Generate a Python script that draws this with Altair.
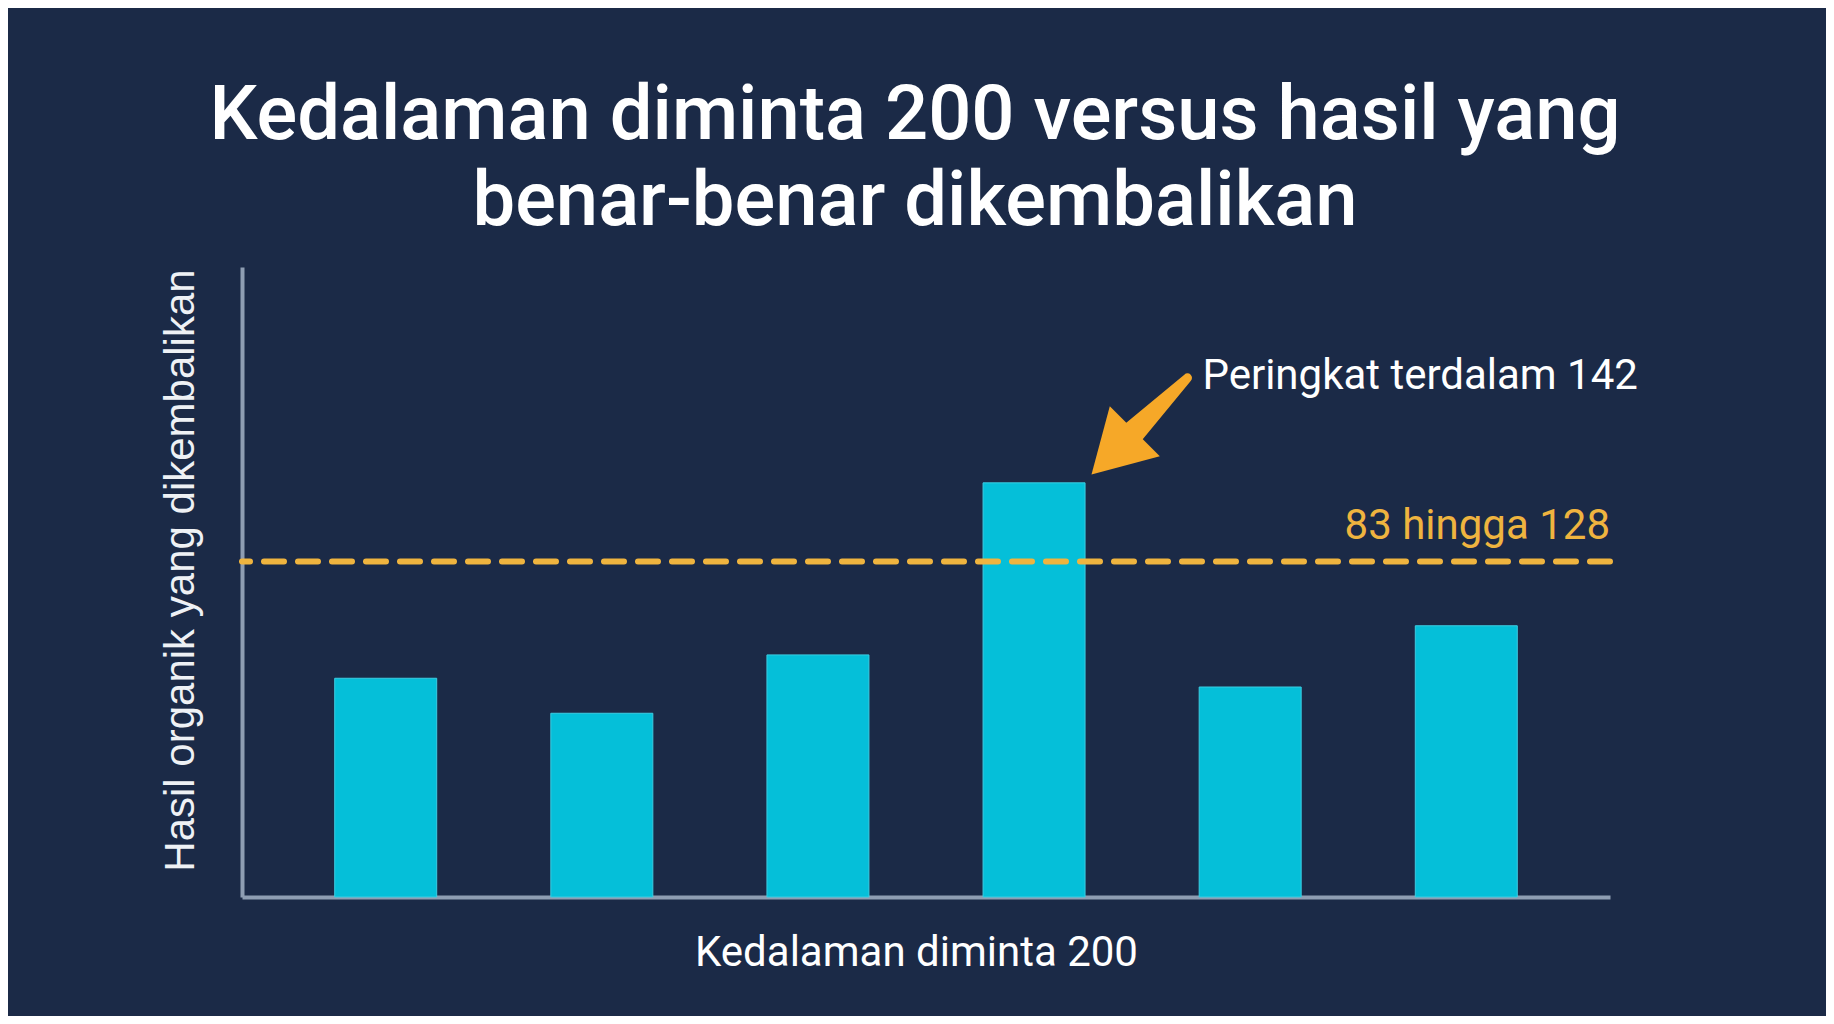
import altair as alt
import pandas as pd

# ---- data ----
bar_pos = [1, 2, 3, 4, 5, 6]
returned = [75, 63, 83, 142, 72, 93]
bar_half_width = 0.236

ref_value = [115]
ref_label = ["83 hingga 128"]
ref_label_x = [6.665]
ref_label_y = [122.7]

note_text = ["Peringkat terdalam 142"]
note_x = [4.779]
note_y = [174.2]

arrow_x = [4.71, 4.437]
arrow_y = [178, 157.7]
arrow_w = [9, 25]
arrow_order = [0, 1]
head_x = [4.366]
head_y = [152.3]

title_lines = ["Kedalaman diminta 200 versus hasil yang", "benar-benar dikembalikan"]
x_title = "Kedalaman diminta 200"
y_title = "Hasil organik yang dikembalikan"

# ---- styling ----
BG = "#1B2A47"
CYAN = "#05BFD9"
GOLD = "#EFB43F"
ARROW = "#F6A828"
AXIS = "#8E9DB2"
WHITE = "#FFFFFF"

xs = alt.Scale(domain=[0.335, 6.665], nice=False, zero=False)
ys = alt.Scale(domain=[0, 216], nice=False, zero=True)

x_axis = alt.Axis(title=x_title, labels=False, ticks=False, grid=False,
                  domainColor=AXIS, domainWidth=4, titleFont="Roboto",
                  titleFontSize=42, titleFontWeight="normal", titleColor=WHITE,
                  titlePadding=35, titleX=674)
y_axis = alt.Axis(title=y_title, labels=False, ticks=False, grid=False,
                  domainColor=AXIS, domainWidth=4, titleFont="Liberation Sans",
                  titleFontSize=42, titleFontWeight="normal", titleColor="#EEF1F5",
                  titlePadding=40, titleY=303)


def X(field):
    return alt.X(field, type="quantitative", scale=xs, axis=x_axis)


def Y(field):
    return alt.Y(field, type="quantitative", scale=ys, axis=y_axis)


bars_df = pd.DataFrame({
    "pos": bar_pos,
    "value": returned,
})
bars_df["x0"] = bars_df["pos"] - bar_half_width
bars_df["x1"] = bars_df["pos"] + bar_half_width

bars = alt.Chart(bars_df).mark_bar(color=CYAN, stroke="#3CCDE2", strokeWidth=1).encode(
    x=X("x0"), x2="x1", y=Y("value"), y2=alt.datum(0)
)

ref_df = pd.DataFrame({"v": ref_value})
ref_rule = alt.Chart(ref_df).mark_rule(
    color=GOLD, strokeWidth=6, strokeDash=[20, 14], strokeCap="round"
).encode(y=Y("v"))

ref_text_df = pd.DataFrame({"x": ref_label_x, "y": ref_label_y, "t": ref_label})
ref_text = alt.Chart(ref_text_df).mark_text(
    color=GOLD, font="Roboto", fontSize=42, align="right", baseline="alphabetic"
).encode(x=X("x"), y=Y("y"), text="t:N")

note_df = pd.DataFrame({"x": note_x, "y": note_y, "t": note_text})
note = alt.Chart(note_df).mark_text(
    color=WHITE, font="Roboto", fontSize=42, align="left", baseline="alphabetic"
).encode(x=X("x"), y=Y("y"), text="t:N")

arrow_df = pd.DataFrame({"x": arrow_x, "y": arrow_y, "w": arrow_w, "o": arrow_order})
shaft = alt.Chart(arrow_df).mark_trail(color=ARROW).encode(
    x=X("x"), y=Y("y"), size=alt.Size("w:Q", scale=None, legend=None),
    order="o:Q"
)

head_df = pd.DataFrame({"x": head_x, "y": head_y})
head = alt.Chart(head_df).mark_point(
    shape="triangle-up", filled=True, color=ARROW, opacity=1, size=5000, angle=225
).encode(x=X("x"), y=Y("y"))

chart = alt.layer(bars, ref_rule, ref_text, shaft, head, note).properties(
    width=1368,
    height=630,
    padding={"left": 234, "top": 259, "right": 216, "bottom": 119},
    autosize=alt.AutoSizeParams(type="none"),
    title=alt.Title(
        title_lines, font="Roboto", fontSize=76, fontWeight=500, color=WHITE,
        anchor="middle", frame="group", lineHeight=86, offset=26, dx=-11
    ),
).configure(background=BG).configure_view(stroke=None)

chart.save("out.html", embed_options={"renderer": "svg", "actions": False})
